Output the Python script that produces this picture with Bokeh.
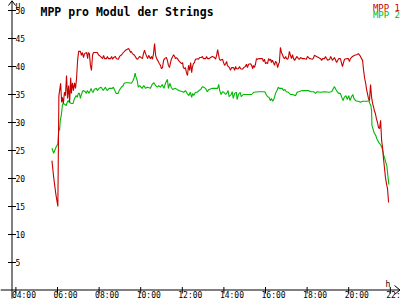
from bokeh.plotting import figure
from bokeh.models import Range1d, ColumnDataSource, Label
from bokeh.core.properties import value
from bokeh.embed import file_html
from bokeh.resources import INLINE

# ---------------- data ----------------
title_text = "MPP pro Modul der Strings"
series_names = ["MPP 1", "MPP 2"]
series_colors = ["#c80000", "#00b800"]
y_unit = "U"
x_unit = "h"
x_tick_labels = ["04:00", "06:00", "08:00", "10:00", "12:00",
                 "14:00", "16:00", "18:00", "20:00", "22:00"]
y_ticks = [5, 10, 15, 20, 25, 30, 35, 40, 45, 50]

mpp1_times = [
    "05:44", "05:49", "05:55", "06:01", "06:04", "06:09", "06:12", "06:14", "06:17", "06:20",
    "06:23", "06:26", "06:29", "06:32", "06:35", "06:38", "06:40", "06:43", "06:46", "06:49",
    "06:52", "06:55", "06:58", "07:01", "07:06", "07:09", "07:12", "07:15", "07:18", "07:24",
    "07:27", "07:29", "07:32", "07:35", "07:38", "07:41", "07:44", "07:50", "07:55", "07:58",
    "08:04", "08:10", "08:13", "08:16", "08:21", "08:24", "08:27", "08:33", "08:36", "08:39",
    "08:42", "08:47", "08:50", "08:56", "08:59", "09:05", "09:10", "09:16", "09:19", "09:25",
    "09:28", "09:31", "09:33", "09:36", "09:42", "09:48", "09:51", "09:57", "10:05", "10:08",
    "10:11", "10:14", "10:20", "10:23", "10:28", "10:31", "10:34", "10:37", "10:40", "10:43",
    "10:46", "10:49", "10:54", "10:57", "11:00", "11:03", "11:06", "11:09", "11:14", "11:17",
    "11:20", "11:23", "11:26", "11:29", "11:35", "11:38", "11:40", "11:43", "11:46", "11:49",
    "11:55", "11:58", "12:01", "12:03", "12:06", "12:09", "12:12", "12:15", "12:18", "12:21",
    "12:24", "12:27", "12:29", "12:32", "12:35", "12:38", "12:44", "12:47", "12:50", "12:55",
    "12:58", "13:01", "13:07", "13:10", "13:13", "13:18", "13:21", "13:27", "13:33", "13:36",
    "13:39", "13:42", "13:44", "13:47", "13:50", "13:56", "13:59", "14:02", "14:05", "14:08",
    "14:10", "14:16", "14:19", "14:22", "14:28", "14:31", "14:34", "14:36", "14:42", "14:45",
    "14:48", "14:54", "14:57", "15:02", "15:05", "15:08", "15:11", "15:17", "15:20", "15:23",
    "15:25", "15:28", "15:31", "15:34", "15:37", "15:40", "15:46", "15:51", "15:54", "15:57",
    "16:00", "16:03", "16:06", "16:09", "16:12", "16:15", "16:17", "16:20", "16:23", "16:26",
    "16:29", "16:32", "16:35", "16:38", "16:40", "16:43", "16:46", "16:49", "16:52", "16:55",
    "16:58", "17:01", "17:04", "17:06", "17:09", "17:12", "17:15", "17:18", "17:21", "17:24",
    "17:27", "17:30", "17:35", "17:38", "17:41", "17:47", "17:53", "17:58", "18:01", "18:07",
    "18:10", "18:16", "18:19", "18:21", "18:27", "18:33", "18:39", "18:42", "18:45", "18:50",
    "18:53", "18:59", "19:05", "19:08", "19:13", "19:19", "19:25", "19:31", "19:36", "19:39",
    "19:42", "19:45", "19:48", "19:54", "19:59", "20:02", "20:05", "20:11", "20:17", "20:23",
    "20:28", "20:34", "20:37", "20:40", "20:43", "20:46", "20:49", "20:51", "20:54", "20:57",
    "21:00", "21:03", "21:06", "21:09", "21:12", "21:14", "21:17", "21:20", "21:23", "21:26",
    "21:29", "21:32", "21:35", "21:38", "21:40", "21:43", "21:46", "21:49", "21:52", "21:55",
]
mpp1_values = [
    23.2, 20.2, 17.3, 15.0, 34.8, 37.0, 33.6, 34.5, 33.4, 35.4,
    34.8, 38.4, 34.3, 36.6, 33.6, 38.0, 35.2, 37.1, 35.7, 37.1,
    36.1, 37.9, 41.1, 42.7, 42.7, 42.0, 42.5, 41.6, 42.3, 42.5,
    41.4, 42.5, 42.3, 40.2, 39.3, 42.0, 42.5, 42.5, 42.5, 42.1,
    41.8, 41.4, 42.0, 41.4, 41.4, 41.8, 41.4, 41.4, 41.8, 41.3,
    41.6, 41.8, 41.4, 41.3, 41.8, 42.1, 42.5, 42.9, 43.0, 43.2,
    42.9, 42.5, 42.7, 42.3, 42.0, 41.4, 41.3, 41.8, 41.4, 42.3,
    42.9, 42.3, 41.4, 42.0, 41.4, 41.8, 41.3, 42.3, 44.1, 42.0,
    41.4, 41.1, 40.5, 40.2, 39.6, 39.8, 41.1, 41.4, 41.6, 41.1,
    40.2, 39.8, 40.7, 41.4, 42.1, 41.8, 41.4, 41.6, 41.4, 41.1,
    40.7, 40.5, 40.7, 39.8, 39.6, 39.8, 38.9, 38.4, 40.2, 39.3,
    40.7, 38.9, 39.8, 40.5, 40.7, 41.3, 41.4, 41.3, 41.6, 41.6,
    41.8, 41.4, 41.4, 41.8, 41.4, 41.4, 41.6, 41.8, 41.6, 41.3,
    42.0, 43.0, 42.3, 41.3, 41.1, 41.3, 40.7, 40.2, 40.5, 40.9,
    40.2, 39.8, 39.3, 39.8, 39.8, 39.3, 40.0, 39.6, 39.6, 40.0,
    39.6, 39.5, 39.8, 40.0, 40.4, 39.8, 40.4, 40.5, 40.2, 39.6,
    40.2, 39.8, 40.4, 41.4, 41.3, 41.4, 41.4, 41.4, 40.9, 41.3,
    40.5, 40.7, 40.5, 41.4, 41.1, 41.3, 40.7, 41.1, 40.7, 40.2,
    40.9, 40.7, 39.8, 40.5, 40.7, 43.4, 42.5, 42.1, 41.6, 41.4,
    41.8, 41.4, 41.3, 41.6, 42.7, 42.0, 41.4, 42.1, 41.4, 41.1,
    41.4, 41.8, 41.4, 41.3, 41.6, 41.4, 41.4, 41.3, 41.8, 41.4,
    41.4, 41.3, 41.6, 42.0, 41.8, 41.6, 41.4, 41.1, 41.4, 41.4,
    41.8, 41.1, 41.3, 41.8, 41.1, 41.6, 40.7, 41.4, 41.4, 40.7,
    40.0, 40.7, 41.3, 41.4, 41.4, 40.9, 41.4, 41.8, 42.0, 42.1,
    42.3, 41.8, 41.4, 41.1, 39.3, 37.9, 37.0, 36.1, 35.2, 34.3,
    33.9, 36.8, 34.5, 33.4, 32.7, 32.1, 31.6, 30.7, 30.0, 29.1,
    28.9, 30.4, 26.8, 25.4, 23.8, 22.0, 20.2, 19.1, 18.2, 15.7,
]

mpp2_times = [
    "05:44", "05:49", "05:55", "06:01", "06:04", "06:06", "06:08", "06:11", "06:14", "06:16",
    "06:22", "06:25", "06:28", "06:31", "06:34", "06:40", "06:45", "06:48", "06:51", "06:54",
    "06:57", "07:00", "07:03", "07:06", "07:08", "07:11", "07:14", "07:20", "07:23", "07:26",
    "07:31", "07:37", "07:40", "07:43", "07:46", "07:52", "07:55", "08:00", "08:06", "08:12",
    "08:18", "08:23", "08:29", "08:38", "08:41", "08:44", "08:49", "08:55", "08:58", "09:04",
    "09:10", "09:12", "09:18", "09:24", "09:33", "09:38", "09:41", "09:44", "09:46", "09:50",
    "09:53", "09:57", "10:04", "10:09", "10:14", "10:19", "10:28", "10:33", "10:38", "10:43",
    "10:48", "10:52", "10:57", "11:02", "11:07", "11:12", "11:17", "11:20", "11:24", "11:28",
    "11:32", "11:40", "11:50", "12:00", "12:04", "12:09", "12:14", "12:19", "12:23", "12:27",
    "12:30", "12:33", "12:38", "12:43", "12:48", "12:53", "12:58", "13:02", "13:07", "13:12",
    "13:17", "13:27", "13:36", "13:42", "13:45", "13:48", "13:52", "13:56", "14:00", "14:05",
    "14:08", "14:12", "14:15", "14:21", "14:24", "14:27", "14:31", "14:36", "14:38", "14:42",
    "14:47", "14:50", "14:56", "15:05", "15:14", "15:20", "15:26", "15:40", "15:58", "16:02",
    "16:06", "16:10", "16:14", "16:17", "16:21", "16:25", "16:29", "16:33", "16:37", "16:40",
    "16:48", "16:52", "16:56", "17:00", "17:06", "17:12", "17:18", "17:27", "17:31", "17:36",
    "17:46", "17:55", "18:04", "18:10", "18:19", "18:24", "18:29", "18:39", "18:50", "19:02",
    "19:11", "19:16", "19:19", "19:23", "19:27", "19:31", "19:36", "19:40", "19:44", "19:47",
    "19:52", "19:56", "20:00", "20:04", "20:08", "20:12", "20:15", "20:20", "20:25", "20:28",
    "20:34", "20:40", "20:49", "20:53", "20:58", "21:01", "21:04", "21:06", "21:07", "21:10",
    "21:13", "21:15", "21:18", "21:21", "21:24", "21:27", "21:30", "21:33", "21:36", "21:38",
    "21:41", "21:44", "21:47", "21:50", "21:53", "21:56",
]
mpp2_values = [
    25.4, 24.5, 25.5, 26.2, 29.1, 28.6, 30.4, 31.3, 33.0, 33.4,
    33.2, 33.0, 33.6, 33.9, 33.6, 33.4, 33.4, 34.1, 34.5, 34.8,
    34.5, 35.2, 35.2, 34.3, 34.8, 35.4, 35.7, 35.5, 35.2, 35.7,
    35.2, 36.1, 35.5, 35.4, 35.9, 36.1, 35.7, 36.1, 36.3, 35.7,
    36.3, 35.7, 36.1, 36.1, 36.3, 35.9, 35.2, 35.2, 35.7, 36.3,
    36.6, 37.0, 37.1, 37.1, 37.0, 37.5, 38.0, 38.8, 38.2, 37.5,
    36.3, 36.6, 36.1, 36.6, 36.1, 36.3, 36.1, 36.8, 37.1, 36.6,
    36.3, 36.6, 36.3, 36.8, 36.1, 37.1, 37.7, 36.1, 37.0, 36.3,
    35.9, 36.1, 35.7, 35.5, 35.4, 35.7, 35.2, 34.8, 35.4, 34.5,
    35.2, 34.8, 35.4, 35.4, 35.7, 35.9, 36.4, 36.3, 36.1, 35.5,
    35.9, 36.1, 36.1, 36.1, 36.8, 35.7, 35.0, 35.5, 35.4, 35.0,
    35.2, 35.7, 34.6, 35.0, 35.5, 34.3, 35.2, 35.4, 34.1, 35.0,
    35.4, 34.6, 35.0, 35.0, 35.0, 35.0, 35.4, 35.5, 35.5, 35.0,
    34.6, 34.5, 33.9, 34.3, 33.8, 34.3, 35.2, 35.7, 36.3, 36.1,
    36.1, 35.7, 35.9, 35.5, 35.4, 35.0, 35.0, 34.8, 35.4, 35.5,
    35.7, 35.7, 35.7, 35.5, 35.5, 35.2, 35.5, 35.4, 35.5, 35.4,
    35.5, 36.1, 36.4, 35.9, 35.5, 35.2, 35.2, 34.5, 33.9, 34.5,
    34.8, 34.1, 34.8, 33.9, 34.6, 35.0, 34.3, 33.9, 33.8, 33.8,
    33.6, 33.8, 33.8, 33.8, 33.9, 33.4, 33.0, 32.1, 29.5, 28.9,
    28.2, 28.0, 27.7, 27.1, 26.8, 26.4, 26.2, 25.9, 25.5, 25.0,
    24.1, 23.6, 22.9, 22.3, 20.5, 18.9,
]

# ---------------- layout ----------------
W, H = 400, 300
PX_PER_H = 20.8      # pixels per hour
PX_PER_V = 5.6       # pixels per volt
X_04_PX = 15.4       # pixel column of 04:00
Y_ZERO_PX = 290.0    # pixel row of 0 V (from top)

x_start = 4 - X_04_PX / PX_PER_H
x_end = x_start + W / PX_PER_H
y_start = -(H - Y_ZERO_PX) / PX_PER_V
y_end = y_start + H / PX_PER_V


def hx(px):
    return x_start + px / PX_PER_H


def vy(py):
    return y_end - py / PX_PER_V


def to_hours(s):
    hh, mm = s.split(":")
    return int(hh) + int(mm) / 60.0


p = figure(width=W, height=H, output_backend="svg", toolbar_location=None,
           x_range=Range1d(x_start, x_end), y_range=Range1d(y_start, y_end),
           x_axis_type=None, y_axis_type=None, min_border=0,
           background_fill_color="white", border_fill_color="white")
p.outline_line_color = None
p.grid.visible = False

MONO = value("DejaVu Sans Mono")
AX_X = hx(11.5)
AX_Y = vy(289.5)

# axes lines
p.segment(x0=[AX_X, hx(0)], y0=[vy(298), AX_Y], x1=[AX_X, hx(399.5)], y1=[vy(0), AX_Y],
          line_color="black", line_width=1)
# arrow heads
p.line(x=[hx(8), AX_X, hx(15)], y=[vy(5), vy(0.3), vy(5)], line_color="black", line_width=1)
p.line(x=[hx(394), hx(399.5), hx(394)], y=[vy(285), AX_Y, vy(294)], line_color="black", line_width=1)

# y ticks + labels
p.segment(x0=[hx(7.5)] * len(y_ticks), x1=[hx(15.5)] * len(y_ticks), y0=y_ticks, y1=y_ticks,
          line_color="black", line_width=1)
p.text(x=[hx(15)] * len(y_ticks), y=y_ticks, text=[str(t) for t in y_ticks],
       text_font=MONO, text_font_size="8px", text_baseline="middle", text_align="left",
       text_color="black")

# x ticks + labels
x_tick_pos = [to_hours(s) for s in x_tick_labels]
p.segment(x0=x_tick_pos, x1=x_tick_pos, y0=[vy(286.5)] * len(x_tick_pos),
          y1=[vy(293)] * len(x_tick_pos), line_color="black", line_width=1)
p.text(x=x_tick_pos, y=[vy(299.9)] * len(x_tick_pos), text=x_tick_labels,
       text_font=MONO, text_font_size="8px", text_baseline="bottom", text_align="left",
       x_offset=-4, text_color="black")

# unit labels
p.add_layout(Label(x=hx(15), y=vy(6.5), text=y_unit, text_font="DejaVu Sans Mono",
                   text_font_size="8px", text_baseline="alphabetic", text_color="black"))
p.add_layout(Label(x=hx(385), y=vy(283.5), text=x_unit, text_font="DejaVu Sans Mono",
                   text_font_size="8px", text_baseline="alphabetic", text_color="black"))

# title
p.add_layout(Label(x=hx(40), y=vy(11.5), text=title_text, text_font="DejaVu Sans Mono",
                   text_font_style="bold", text_font_size="11.5px",
                   text_baseline="alphabetic", text_color="black"))

# legend
for i, (name, col) in enumerate(zip(series_names, series_colors)):
    p.add_layout(Label(x=hx(399.5), y=vy(7.2 + 7.3 * i), text=name,
                       text_font="DejaVu Sans Mono", text_font_size="9px",
                       text_align="right", text_baseline="alphabetic", text_color=col))

# data lines
src1 = ColumnDataSource(dict(x=[to_hours(t) for t in mpp1_times], y=mpp1_values))
src2 = ColumnDataSource(dict(x=[to_hours(t) for t in mpp2_times], y=mpp2_values))
p.line("x", "y", source=src2, line_color=series_colors[1], line_width=1.1)
p.line("x", "y", source=src1, line_color=series_colors[0], line_width=1.1)

open("out.html", "w").write(file_html(p, INLINE))
